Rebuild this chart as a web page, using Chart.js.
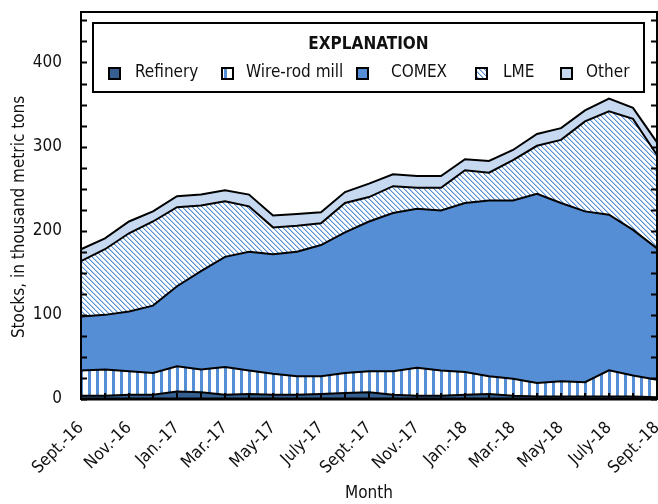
<!DOCTYPE html>
<html>
<head>
<meta charset="utf-8">
<script src="https://cdn.jsdelivr.net/npm/chart.js@4.4.1/dist/chart.umd.min.js"></script>
<style>
  html, body { margin: 0; padding: 0; background: #fff; }
  #wrap { width: 658px; height: 504px; }
</style>
</head>
<body>
<div id="wrap"><canvas id="myChart" width="658" height="504"></canvas></div>
<script>
// monthly stocks, thousand metric tons
const months = ['Sept.-16','Oct.-16','Nov.-16','Dec.-16','Jan.-17','Feb.-17','Mar.-17','Apr.-17',
  'May-17','June-17','July-17','Aug.-17','Sept.-17','Oct.-17','Nov.-17','Dec.-17','Jan.-18',
  'Feb.-18','Mar.-18','Apr.-18','May-18','June-18','July-18','Aug.-18','Sept.-18'];
const refinery = [4, 4, 5, 5, 9, 8, 5, 6, 5, 5, 6, 7, 8, 5, 4, 4, 5, 6, 4, 3, 3, 3, 3, 3, 2];
const wireRod  = [30, 31, 28, 26, 30, 27, 33, 28, 25, 22, 21, 24, 25, 28, 33, 30, 27, 21, 20, 16, 18, 17, 31, 25, 21];
const comex    = [64, 65, 71, 80, 95, 117, 131, 141, 142, 148, 156, 167, 178, 188, 189, 190, 201, 209, 212, 225, 212, 203, 185, 173, 156];
const lme      = [66, 78, 93, 100, 94, 78, 66, 54, 32, 31, 26, 35, 29, 32, 25, 27, 39, 33, 48, 57, 75, 107, 123, 132, 111];
const other    = [14, 13, 14, 12, 13, 13, 13, 14, 14, 14, 13, 13, 16, 14, 14, 14, 13, 14, 12, 14, 14, 13, 15, 13, 15];
const yTicks = [0, 100, 200, 300, 400];

const FONT = "'DejaVu Sans Condensed', 'Liberation Sans Narrow', sans-serif";
const BLUE = '#558ed5';

function makeStripes(){
    const c = document.createElement('canvas');
    c.width = 8; c.height = 8;
    const g = c.getContext('2d');
    g.fillStyle = '#fff';
    g.fillRect(0, 0, 8, 8);
    g.fillStyle = BLUE;
    g.fillRect(0, 0, 3, 8);
    return g.createPattern(c, 'repeat');
}

function makeHatch(){
    const c = document.createElement('canvas');
    c.width = 5; c.height = 5;
    const g = c.getContext('2d');
    g.fillStyle = '#fff';
    g.fillRect(0, 0, 5, 5);
    for (let i = 0; i < 5; i++) {
        g.fillStyle = BLUE;
        g.fillRect(i, i, 1, 1);
        g.fillStyle = '#b3cdee';
        g.fillRect((i + 1) % 5, i, 1, 1);
    }
    return g.createPattern(c, 'repeat');
}

function layer(label, data, fill, bg){
    return {
        label: label,
        data: data,
        fill: fill,
        backgroundColor: bg,
        borderColor: '#000',
        borderWidth: 2,
        pointRadius: 0,
        tension: 0
    };
}

// legend box, frame and inward ticks
const framePlugin = {
    id: 'frame',
    afterDatasetsDraw(chart){
        const ctx = chart.ctx;
        const a = chart.chartArea;
        const x = chart.scales.x, y = chart.scales.y;
        ctx.save();
        ctx.strokeStyle = '#000';
        ctx.lineWidth = 2;
        ctx.beginPath();
        for (let v = 0; v <= 450; v += 25) {
            const py = Math.round(y.getPixelForValue(v)) + 0.5;
            ctx.moveTo(a.left, py); ctx.lineTo(a.left + 6, py);
            ctx.moveTo(a.right, py); ctx.lineTo(a.right - 6, py);
        }
        months.forEach((m, i) => {
            const px = x.getPixelForValue(i);
            ctx.moveTo(px, a.bottom); ctx.lineTo(px, a.bottom - 6);
        });
        ctx.stroke();
        ctx.strokeRect(a.left, a.top, a.right - a.left, a.bottom - a.top);
        ctx.lineWidth = 3;
        ctx.beginPath();
        ctx.moveTo(a.left, a.bottom); ctx.lineTo(a.right, a.bottom);
        ctx.stroke();

        // explanation box
        const bx = 93, by = 23, bw = 551, bh = 69;
        ctx.fillStyle = '#fff';
        ctx.fillRect(bx, by, bw, bh);
        ctx.lineWidth = 2;
        ctx.strokeRect(bx, by, bw, bh);
        ctx.fillStyle = '#111';
        ctx.textAlign = 'center';
        ctx.textBaseline = 'middle';
        ctx.font = 'bold 17px ' + FONT;
        ctx.fillText('EXPLANATION', bx + bw / 2, 45);
        const iconX = [109, 222, 357, 476, 561];
        const textX = [135, 246, 391, 503, 586];
        ctx.font = '17px ' + FONT;
        ctx.textAlign = 'left';
        chart.data.datasets.forEach((ds, i) => {
            ctx.fillStyle = ds.backgroundColor;
            ctx.fillRect(iconX[i], 68, 11, 11);
            ctx.strokeRect(iconX[i], 68, 11, 11);
            ctx.fillStyle = '#111';
            ctx.fillText(ds.label, textX[i], 73);
        });
        ctx.restore();
    }
};

const ctx = document.getElementById('myChart');
new Chart(ctx, {
    type: 'line',
    data: {
        labels: months,
        datasets: [
            layer('Refinery', refinery, 'origin', '#376092'),
            layer('Wire-rod mill', wireRod, '-1', makeStripes()),
            layer('COMEX', comex, '-1', BLUE),
            layer('LME', lme, '-1', makeHatch()),
            layer('Other', other, '-1', '#c6d9f1')
        ]
    },
    options: {
        responsive: false,
        devicePixelRatio: 1,
        animation: false,
        layout: { padding: { top: 12, right: 1, left: 0, bottom: 0 } },
        plugins: {
            legend: { display: false },
            tooltip: { enabled: false }
        },
        scales: {
            x: {
                grid: { display: false },
                border: { display: false },
                ticks: {
                    autoSkip: false,
                    minRotation: 45,
                    maxRotation: 45,
                    padding: 11,
                    color: '#111',
                    font: { family: FONT, size: 17 },
                    callback: (v, i) => i % 2 === 0 ? months[i] : ''
                },
                title: {
                    display: true,
                    text: 'Month',
                    color: '#111',
                    font: { family: FONT, size: 17 },
                    padding: { top: 0, bottom: 0 }
                },
                afterFit: s => { s.height = 105; s.paddingLeft = 0; s.paddingRight = 0; }
            },
            y: {
                stacked: true,
                min: 0,
                max: 460,
                grid: { display: false },
                border: { display: false },
                afterBuildTicks: s => { s.ticks = yTicks.map(v => ({ value: v })); },
                ticks: {
                    padding: 11,
                    color: '#111',
                    font: { family: FONT, size: 17 }
                },
                title: {
                    display: true,
                    text: 'Stocks, in thousand metric tons\u2002\u2002\u2002',
                    color: '#111',
                    font: { family: FONT, size: 17 },
                    padding: { top: 9, bottom: 0 }
                },
                afterFit: s => { s.width = 81; s.paddingTop = 0; s.paddingBottom = 0; }
            }
        }
    },
    plugins: [framePlugin]
});
</script>
</body>
</html>
